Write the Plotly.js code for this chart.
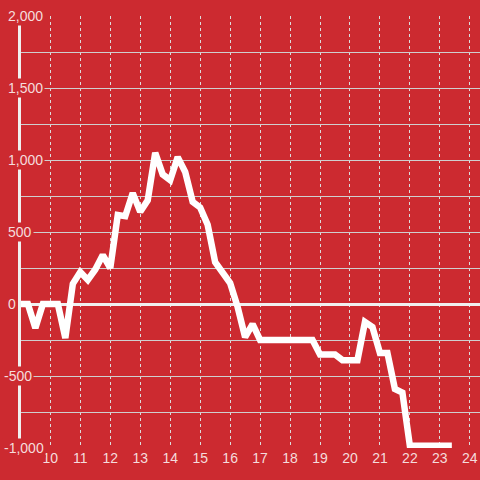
<!DOCTYPE html>
<html>
<head>
<meta charset="utf-8">
<script src="https://cdn.plot.ly/plotly-3.0.1.min.js"></script>
<style>
  html, body { margin: 0; padding: 0; background: #cc2a30; }
  #chart { width: 480px; height: 480px; }
</style>
</head>
<body>
<div id="chart"></div>
<script>
// Hours of day (15-minute steps) and values
const hours = [
  9.0, 9.25, 9.5, 9.75, 10.0, 10.25, 10.5, 10.75,
  11.0, 11.25, 11.5, 11.75, 12.0, 12.25, 12.5, 12.75,
  13.0, 13.25, 13.5, 13.75, 14.0, 14.25, 14.5, 14.75,
  15.0, 15.25, 15.5, 15.75, 16.0, 16.25, 16.5, 16.75,
  17.0, 17.25, 17.5, 17.75, 18.0, 18.25, 18.5, 18.75,
  19.0, 19.25, 19.5, 19.75, 20.0, 20.25, 20.5, 20.75,
  21.0, 21.25, 21.5, 21.75, 22.0, 22.25, 22.5, 22.75,
  23.0, 23.25, 23.4
];
const values = [
  0, 0, -167, 0, 0, 0, -236, 140,
  222, 167, 240, 340, 250, 618, 610, 770,
  640, 720, 1050, 900, 860, 1020, 917, 710,
  670, 550, 290, 220, 146, -20, -230, -140,
  -250, -250, -250, -250, -250, -250, -250, -250,
  -350, -350, -350, -390, -390, -390, -125, -160,
  -340, -340, -590, -615, -985, -985, -985, -985,
  -985, -985, -985
];
const xTickVals = [10, 11, 12, 13, 14, 15, 16, 17, 18, 19, 20, 21, 22, 23, 24];
const xTickText = ["10", "11", "12", "13", "14", "15", "16", "17", "18", "19", "20", "21", "22", "23", "24"];
const yTickVals = [2000, 1500, 1000, 500, 0, -500, -1000];
const yTickText = ["2,000", "1,500", "1,000", "500", "0", "-500", "-1,000"];

const BG = '#cc2a30';
const LABEL = '#f5dcdc';
const FONT = 'Arial, "Liberation Sans", sans-serif';

const trace = {
  x: hours,
  y: values,
  type: 'scatter',
  mode: 'lines',
  line: { color: '#ffffff', width: 6.5 },
  hoverinfo: 'skip'
};

const annotations = yTickVals.map((v, i) => ({
  xref: 'paper', yref: 'y',
  x: 0, y: v,
  xanchor: 'left', yanchor: 'middle',
  xshift: v < 0 ? -19 : -15,
  text: yTickText[i],
  showarrow: false,
  bgcolor: BG,
  borderpad: 1,
  font: { family: FONT, size: 14, color: LABEL }
}));

const layout = {
  width: 480, height: 480,
  margin: { l: 21, r: 0, t: 16, b: 32 },
  paper_bgcolor: BG,
  plot_bgcolor: BG,
  showlegend: false,
  font: { family: FONT, size: 14, color: LABEL },
  xaxis: {
    range: [9.02, 24.34],
    tickmode: 'array',
    tickvals: xTickVals,
    ticktext: xTickText,
    ticks: '',
    showline: false,
    zeroline: false,
    showgrid: true,
    gridcolor: '#dcdcdc',
    griddash: 'dot',
    gridwidth: 1,
    tickfont: { family: FONT, size: 14, color: LABEL },
    fixedrange: true
  },
  yaxis: {
    range: [-1000, 2000],
    dtick: 250,
    tick0: 0,
    showticklabels: false,
    ticks: '',
    showgrid: true,
    gridcolor: '#cfcfcf',
    gridwidth: 1,
    zeroline: true,
    zerolinecolor: '#f0f0f0',
    zerolinewidth: 3,
    showline: true,
    linecolor: '#f0f0f0',
    linewidth: 3,
    fixedrange: true
  },
  annotations: annotations
};

Plotly.newPlot('chart', [trace], layout, { displayModeBar: false, staticPlot: true });
</script>
</body>
</html>
